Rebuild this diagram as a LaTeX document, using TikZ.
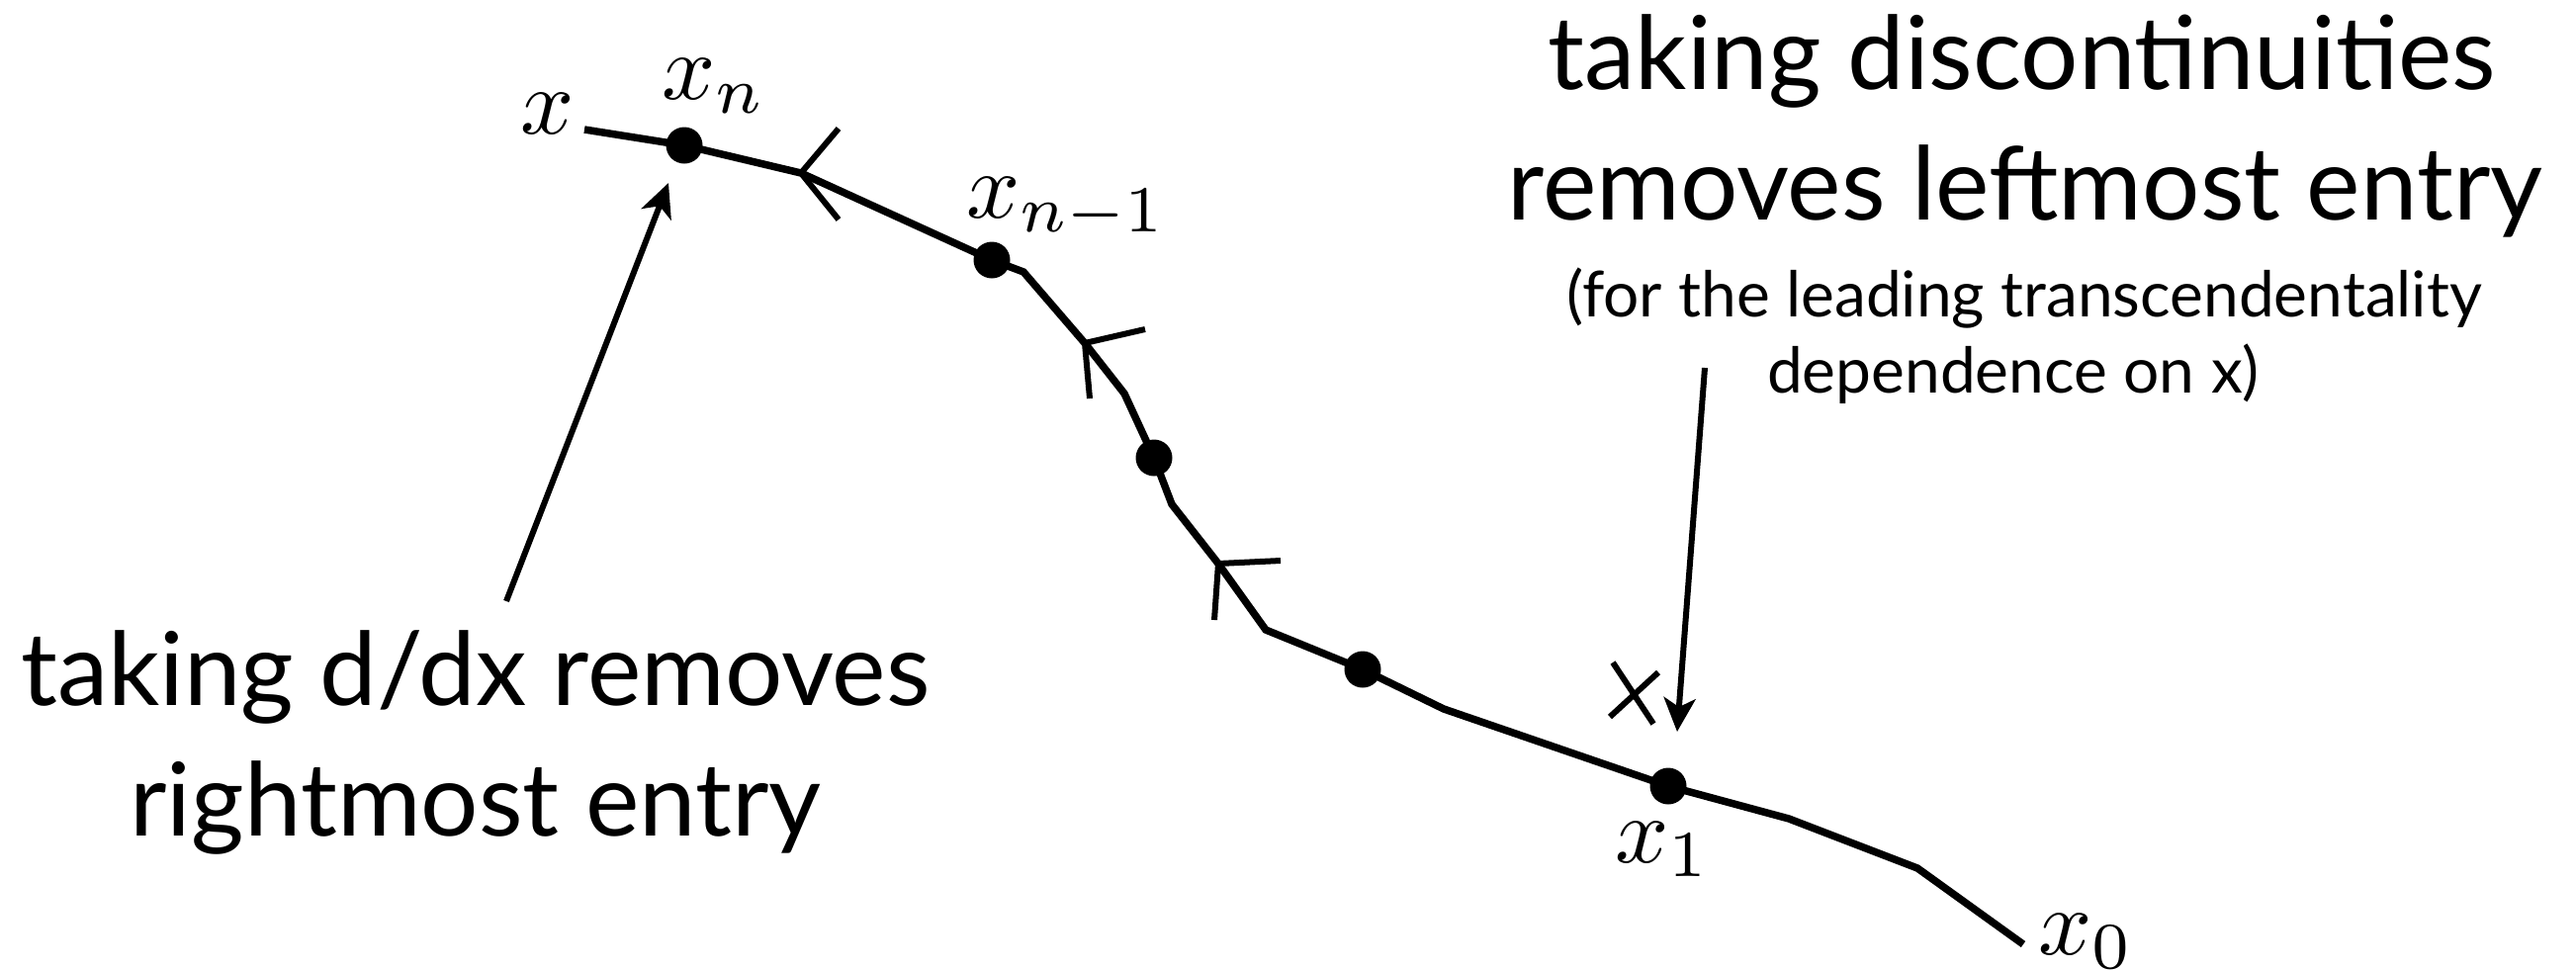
\documentclass[tikz,border=0pt]{standalone}
\usepackage{graphicx}
\usepackage[no-math]{fontspec}
\newfontfamily\gill{Lato}
\usetikzlibrary{arrows.meta}
\newcommand{\biglbl}[1]{\scalebox{9.5}{$#1$}}
\begin{document}
\begin{tikzpicture}[x=1pt,y=-1pt,
  mainline/.style={line width=7.5pt, line join=miter},
  wing/.style={line width=6pt, line join=miter},
  dotnode/.style={circle, fill=black, inner sep=0pt, minimum size=37pt},
  lbl/.style={inner sep=0pt},
  bigtxt/.style={inner sep=0pt, font=\gill\fontsize{103}{132}\selectfont},
  smalltxt/.style={inner sep=0pt, font=\gill\fontsize{64}{77}\selectfont},
  thinarrow/.style={line width=6pt, -{Stealth[length=34pt,width=32pt,inset=9pt]}},
  xmark/.style={line width=6pt}]
\useasboundingbox (0,0) rectangle (2605,980);
% path points
\coordinate (p0) at (591,131);
\coordinate (xn) at (692,147);
\coordinate (a1) at (810,175);
\coordinate (xm) at (1003,263);
\coordinate (b1) at (1035,275);
\coordinate (a2) at (1097,347);
\coordinate (b2) at (1137,398);
\coordinate (d3) at (1167,463);
\coordinate (b3) at (1185,510);
\coordinate (a3) at (1232,570);
\coordinate (b4) at (1280,637);
\coordinate (d4) at (1378,677);
\coordinate (b5) at (1460,717);
\coordinate (x1) at (1687,795);
\coordinate (b6) at (1809,828);
\coordinate (b7) at (1939,878);
\coordinate (p1) at (2046,955);
\draw[mainline] (p0) -- (xn) -- (a1) -- (xm) -- (b1) -- (a2) -- (b2) -- (d3) -- (b3) -- (a3) -- (b4) -- (d4) -- (b5) -- (x1) -- (b6) -- (b7) -- (p1);
% arrowheads on the contour
\draw[wing] (a1) ++(38,-45) -- (a1) -- ++(38,47);
\draw[wing] (a2) ++(61,-14) -- (a2) -- ++(5,56);
\draw[wing] (a3) ++(63,-3) -- (a3) -- ++(-4,57);
% dots
\node[dotnode] (dxn) at (xn) {};
\node[dotnode] (dxm) at (xm) {};
\node[dotnode] (dd3) at (d3) {};
\node[dotnode] (dd4) at (d4) {};
\node[dotnode] (dx1) at (x1) {};
% labels
\node[lbl, anchor=base west] (lx) at (526,135) {\biglbl{x}};
\node[lbl, anchor=base west] (lxn) at (669,100) {\biglbl{x_n}};
\node[lbl, anchor=base west] (lxm) at (977,220) {\biglbl{x_{n-1}}};
\node[lbl, anchor=base west] (lx1) at (1633,872) {\biglbl{x_1}};
\node[lbl, anchor=base west] (lx0) at (2061,965) {\biglbl{x_0}};
% cross mark
\draw[xmark] (1631,670) -- (1672,732);
\draw[xmark] (1677,680) -- (1628,725);
% texts
\node[bigtxt, anchor=base] (t1) at (481,713) {taking d/dx removes};
\node[bigtxt, anchor=base] (t2) at (481,845) {rightmost entry};
\node[bigtxt, anchor=base] (r1) at (2045,90) {taking discontinuities};
\node[bigtxt, anchor=base] (r2) at (2048,222) {removes leftmost entry};
\node[smalltxt, anchor=base] (r3) at (2047,320) {(for the leading transcendentality};
\node[smalltxt, anchor=base] (r4) at (2036,397) {dependence on x)};
% annotation arrows
\coordinate (ltail) at (512,608);
\coordinate (ltip) at (676,185);
\coordinate (rtail) at (1724,372);
\coordinate (rtip) at (1696,740);
\draw[thinarrow] (ltail) -- (ltip);
\draw[thinarrow] (rtail) -- (rtip);
\end{tikzpicture}
\end{document}
